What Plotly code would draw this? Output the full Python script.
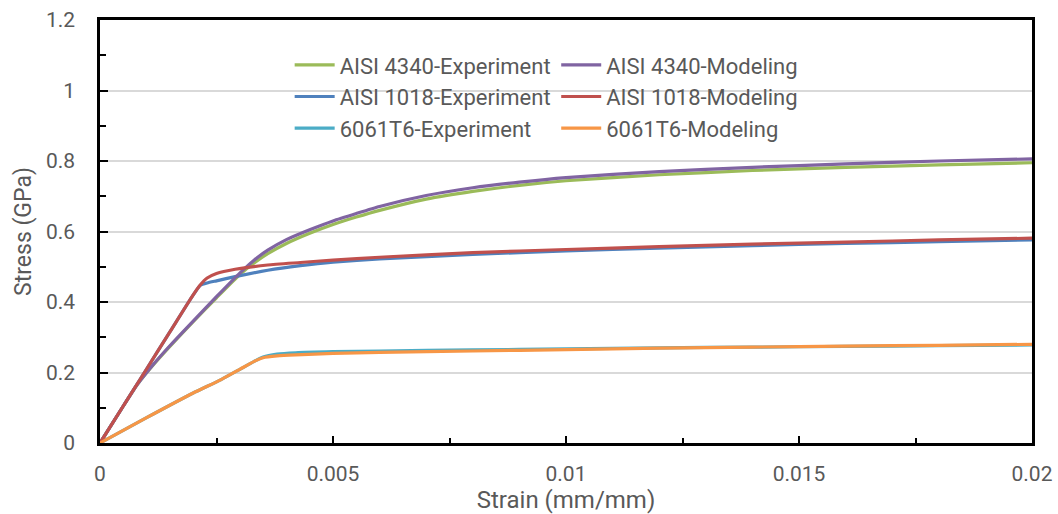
import plotly.graph_objects as go

# ---------------- data ----------------
strain_4340 = [0, 0.0005, 0.0008, 0.0011, 0.0015, 0.002, 0.0025, 0.003, 0.0033, 0.0036, 0.004, 0.0045,
               0.005, 0.0055, 0.006, 0.007, 0.008, 0.009, 0.010, 0.012, 0.014, 0.016, 0.018, 0.020]
stress_4340_exp = [0, 0.105, 0.166, 0.215, 0.274, 0.344, 0.412, 0.478, 0.510, 0.537, 0.566, 0.595,
                   0.620, 0.641, 0.660, 0.692, 0.714, 0.731, 0.744, 0.761, 0.773, 0.782, 0.789, 0.795]
stress_4340_mod = [0, 0.105, 0.166, 0.216, 0.276, 0.346, 0.415, 0.482, 0.518, 0.547, 0.577, 0.605,
                   0.630, 0.651, 0.671, 0.702, 0.724, 0.740, 0.753, 0.770, 0.782, 0.792, 0.800, 0.806]

strain_1018 = [0, 0.0005, 0.001, 0.0015, 0.002, 0.00215, 0.0023, 0.0025, 0.0029, 0.0036,
               0.0043, 0.005, 0.006, 0.008, 0.010, 0.012, 0.014, 0.016, 0.018, 0.020]
stress_1018_exp = [0, 0.105, 0.210, 0.315, 0.420, 0.447, 0.454, 0.460, 0.472, 0.490,
                   0.503, 0.513, 0.522, 0.535, 0.545, 0.553, 0.560, 0.566, 0.571, 0.576]
stress_1018_mod = [0, 0.105, 0.210, 0.315, 0.420, 0.448, 0.468, 0.481, 0.493, 0.505,
                   0.512, 0.519, 0.527, 0.540, 0.549, 0.557, 0.564, 0.570, 0.576, 0.581]

strain_6061 = [0, 0.001, 0.002, 0.0026, 0.003, 0.0033, 0.0035, 0.0038, 0.0042, 0.005,
               0.006, 0.008, 0.010, 0.012, 0.014, 0.016, 0.018, 0.020]
stress_6061_exp = [0, 0.072, 0.142, 0.180, 0.209, 0.231, 0.244, 0.252, 0.256, 0.259,
                   0.261, 0.264, 0.267, 0.270, 0.272, 0.274, 0.276, 0.278]
stress_6061_mod = [0, 0.072, 0.142, 0.180, 0.209, 0.231, 0.242, 0.247, 0.250, 0.254,
                   0.257, 0.261, 0.265, 0.269, 0.272, 0.275, 0.277, 0.280]

names_exp = ["AISI 4340-Experiment", "AISI 1018-Experiment", "6061T6-Experiment"]
names_mod = ["AISI 4340-Modeling", "AISI 1018-Modeling", "6061T6-Modeling"]

colors_exp = ["#9BBB59", "#4F81BD", "#4BACC6"]
colors_mod = ["#8064A2", "#C0504D", "#F79646"]

FONT = "Roboto, sans-serif"
TXT = "#595959"

fig = go.Figure()

series_exp = [(strain_4340, stress_4340_exp), (strain_1018, stress_1018_exp), (strain_6061, stress_6061_exp)]
series_mod = [(strain_4340, stress_4340_mod), (strain_1018, stress_1018_mod), (strain_6061, stress_6061_mod)]

for i, ((x, y), n, c) in enumerate(zip(series_exp, names_exp, colors_exp)):
    fig.add_trace(go.Scatter(x=x, y=y, name=n, mode="lines",
                             line=dict(color=c, width=3.2, shape="spline", smoothing=0.5),
                             legend="legend", legendgroup="e%d" % i))
for i, ((x, y), n, c) in enumerate(zip(series_mod, names_mod, colors_mod)):
    fig.add_trace(go.Scatter(x=x, y=y, name=n, mode="lines",
                             line=dict(color=c, width=3.2, shape="spline", smoothing=0.5),
                             legend="legend2", legendgroup="m%d" % i))

legend_common = dict(bgcolor="rgba(0,0,0,0)", font=dict(family=FONT, size=22, color=TXT),
                     traceorder="grouped", tracegroupgap=0, itemwidth=40,
                     xanchor="left", yanchor="top", yref="paper", xref="paper")

fig.update_layout(
    width=1058, height=514,
    margin=dict(l=100, r=26, t=20, b=71),
    paper_bgcolor="white", plot_bgcolor="white",
    font=dict(family=FONT, size=21, color=TXT),
    legend=dict(x=0.2035, y=0.943, **legend_common),
    legend2=dict(x=0.4895, y=0.943, **legend_common),
    shapes=[dict(type="rect", xref="paper", yref="paper", x0=0.18, x1=0.885, y0=0.70, y1=0.94,
                 fillcolor="white", line=dict(width=0), layer="between")],
    xaxis=dict(range=[0, 0.02], dtick=0.005, tick0=0, showgrid=False, zeroline=False, automargin=False,
               showline=True, linecolor="black", linewidth=2.5, mirror=True,
               ticks="inside", ticklen=7, tickwidth=1.5, tickcolor="black",
               minor=dict(dtick=0.0025, ticks="inside", ticklen=5, tickwidth=1.5, tickcolor="black", showgrid=False),
               tickfont=dict(family=FONT, size=21, color=TXT), ticklabelstandoff=10,
               title=dict(text="Strain (mm/mm)", font=dict(family=FONT, size=24, color=TXT), standoff=6)),
    yaxis=dict(range=[0, 1.2], dtick=0.2, tick0=0, showgrid=True, gridcolor="#D9D9D9", gridwidth=1.5,
               zeroline=False, showline=True, linecolor="black", linewidth=2.5, mirror=True, automargin=False,
               ticks="inside", ticklen=8, tickwidth=1.5, tickcolor="black",
               minor=dict(dtick=0.1, ticks="inside", ticklen=6, tickwidth=1.5, tickcolor="black", showgrid=False),
               tickfont=dict(family=FONT, size=21, color=TXT), ticklabelstandoff=18,
               title=dict(text="Stress (GPa)", font=dict(family=FONT, size=23, color=TXT), standoff=8)),
)

fig.write_html("out.html")
